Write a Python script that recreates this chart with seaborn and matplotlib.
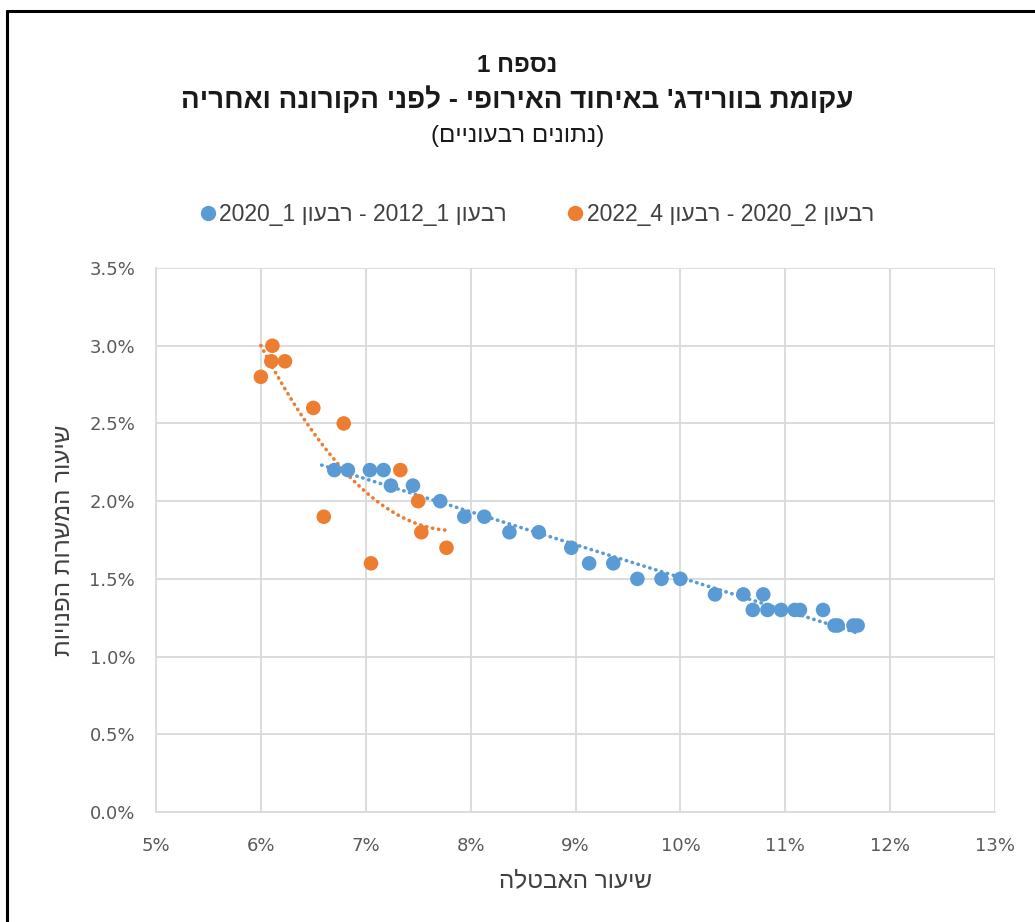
import re
import numpy as np
import pandas as pd
import matplotlib
matplotlib.use("Agg")
import matplotlib.pyplot as plt
import seaborn as sns
from matplotlib.lines import Line2D
from matplotlib.ticker import FuncFormatter

# unemployment rate (%) / job vacancy rate (%)
pre_x = [6.70, 6.83, 7.04, 7.17, 7.24, 7.45, 7.71, 7.94, 8.13, 8.37, 8.65, 8.96,
         9.13, 9.36, 9.59, 9.82, 10.00, 10.33, 10.60, 10.79, 10.69, 10.83, 10.96,
         11.09, 11.14, 11.36, 11.47, 11.50, 11.65, 11.69]
pre_y = [2.2, 2.2, 2.2, 2.2, 2.1, 2.1, 2.0, 1.9, 1.9, 1.8, 1.8, 1.7,
         1.6, 1.6, 1.5, 1.5, 1.5, 1.4, 1.4, 1.4, 1.3, 1.3, 1.3,
         1.3, 1.3, 1.3, 1.2, 1.2, 1.2, 1.2]
post_x = [6.00, 6.11, 6.10, 6.23, 6.50, 6.79, 6.60, 7.05, 7.33, 7.50, 7.53, 7.77]
post_y = [2.8, 3.0, 2.9, 2.9, 2.6, 2.5, 1.9, 1.6, 2.2, 2.0, 1.8, 1.7]

x_ticks = [5, 6, 7, 8, 9, 10, 11, 12, 13]
y_ticks = [0.0, 0.5, 1.0, 1.5, 2.0, 2.5, 3.0, 3.5]

pre_label = "רבעון 1_2012 - רבעון 1_2020"
post_label = "רבעון 2_2020 - רבעון 4_2022"
title1 = "נספח 1"
title2 = "עקומת בוורידג' באיחוד האירופי - לפני הקורונה ואחריה"
title3 = "(נתונים רבעוניים)"
xlabel = "שיעור האבטלה"
ylabel = "שיעור המשרות הפנויות"

BLUE = "#5B9BD5"
ORANGE = "#ED7D31"


def vis(s):
    # simple RTL -> visual order: reverse, keep digit runs, mirror brackets
    r = s[::-1]
    r = re.sub(r"[0-9]+", lambda m: m.group(0)[::-1], r)
    return r.translate(str.maketrans("()", ")("))


sns.set_theme(style="white")
plt.rcParams['font.family'] = ['Liberation Sans', 'DejaVu Sans']

df = pd.concat([
    pd.DataFrame({'u': pre_x, 'v': pre_y, 'period': 'pre'}),
    pd.DataFrame({'u': post_x, 'v': post_y, 'period': 'post'}),
])

fig = plt.figure(figsize=(10.35, 9.22), dpi=100)
ax = fig.add_axes([0.1507, 0.1193, 0.8107, 0.59])

sns.scatterplot(data=df, x='u', y='v', hue='period',
                palette={'pre': BLUE, 'post': ORANGE},
                s=110, linewidth=0, alpha=1, legend=False, ax=ax, zorder=3)

# trendlines
dots = (0, (0.1, 1.6))
c1 = np.polyfit(pre_x, pre_y, 1)
xx1 = np.linspace(6.58, max(pre_x), 100)
ax.plot(xx1, np.polyval(c1, xx1), ls=dots, lw=2.6, color=BLUE,
        dash_capstyle='round', zorder=2)
c2 = np.polyfit(post_x, post_y, 2)
xx2 = np.linspace(min(post_x), max(post_x), 100)
ax.plot(xx2, np.polyval(c2, xx2), ls=dots, lw=2.6, color=ORANGE,
        dash_capstyle='round', zorder=2)

ax.set_xlim(5, 13)
ax.set_ylim(0, 3.5)
ax.set_xticks(x_ticks)
ax.set_yticks(y_ticks)
ax.xaxis.set_major_formatter(FuncFormatter(lambda v, p: f"{v:.0f}%"))
ax.yaxis.set_major_formatter(FuncFormatter(lambda v, p: f"{v:.1f}%"))
ax.tick_params(axis='both', length=0, labelsize=13, colors='#595959')
for lab in ax.get_xticklabels() + ax.get_yticklabels():
    lab.set_family('DejaVu Sans')
ax.tick_params(axis='x', pad=18)
ax.tick_params(axis='y', pad=15)
ax.grid(True, color='#D9D9D9', lw=1.3)
for sp in ax.spines.values():
    sp.set_visible(False)
ax.spines['left'].set_visible(True)
ax.spines['left'].set_color('#D9D9D9')
ax.spines['bottom'].set_visible(True)
ax.spines['bottom'].set_color('#D9D9D9')

ax.set_xlabel(vis(xlabel), fontsize=17.5, color='#404040', labelpad=11)
ax.set_ylabel(vis(ylabel), fontsize=17.5, color='#404040', labelpad=10)

fig.text(0.5, 0.929, vis(title1), ha='center', va='center', fontsize=17.5,
         fontweight='bold', color='#1a1a1a')
fig.text(0.5, 0.891, vis(title2), ha='center', va='center', fontsize=20,
         fontweight='bold', color='#1a1a1a')
fig.text(0.5, 0.852, vis(title3), ha='center', va='center', fontsize=17.5,
         color='#1a1a1a')

handles = [Line2D([], [], ls='none', marker='o', ms=10, color=BLUE),
           Line2D([], [], ls='none', marker='o', ms=10, color=ORANGE)]
fig.legend(handles, [vis(pre_label), vis(post_label)], loc='center',
           bbox_to_anchor=(0.517, 0.767), ncol=2, frameon=False, fontsize=16.5,
           handletextpad=0.0, columnspacing=2.5, handlelength=1.0,
           labelcolor='#404040')

# partial frame (top and left edges)
fig.add_artist(Line2D([7 / 1035, 1], [1 - 11 / 922, 1 - 11 / 922],
                      color='black', lw=2.2, transform=fig.transFigure))
fig.add_artist(Line2D([7 / 1035, 7 / 1035], [0, 1 - 11 / 922],
                      color='black', lw=2.2, transform=fig.transFigure))

fig.savefig("out.png", dpi=100, facecolor='white')
